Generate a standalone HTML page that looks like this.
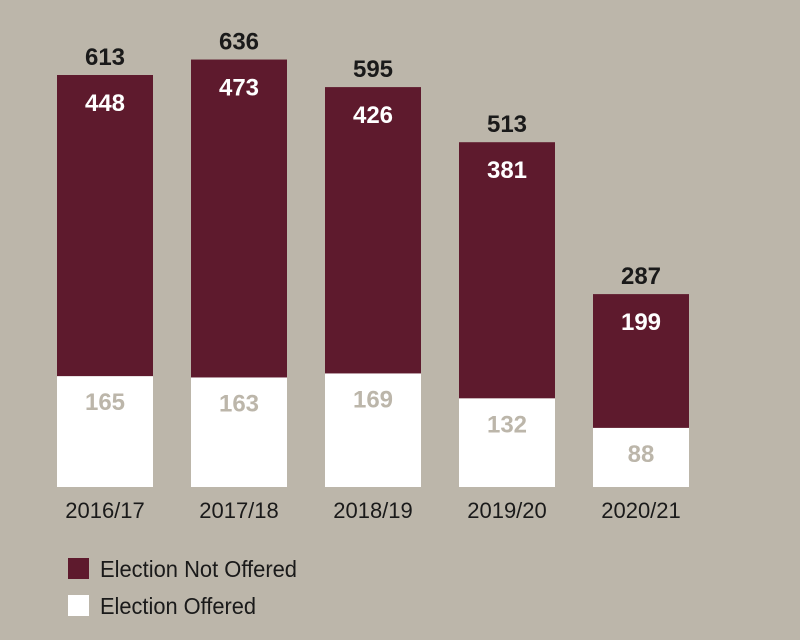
<!DOCTYPE html>
<html><head><meta charset="utf-8"><style>
html,body{margin:0;padding:0;background:#bcb6aa;}
svg{display:block;font-family:"Liberation Sans Narrow","Liberation Sans",sans-serif;}
</style></head><body>
<svg id="chart" width="800" height="640">
<rect width="800" height="640" fill="#bcb6aa"/>
<g id="bars"></g>
<g>
<rect x="68" y="558" width="21" height="21" fill="#5e1a2d"/>
<text x="100" y="577" font-size="23" fill="#1a1a1a" textLength="197" lengthAdjust="spacingAndGlyphs">Election Not Offered</text>
<rect x="68" y="595" width="21" height="21" fill="#ffffff"/>
<text x="100" y="614" font-size="23" fill="#1a1a1a" textLength="156" lengthAdjust="spacingAndGlyphs">Election Offered</text>
</g>
</svg>
<script>
const categories = ["2016/17","2017/18","2018/19","2019/20","2020/21"];
const offered = [165,163,169,132,88];
const notOffered = [448,473,426,381,199];
const totals = [613,636,595,513,287];

const base = 487, scale = 412/613, x0 = 57, step = 134, bw = 96;
const y = v => base - v*scale;
const ns = "http://www.w3.org/2000/svg";
const g = document.getElementById('bars');
function mk(tag, attrs){const e=document.createElementNS(ns,tag);for(const k in attrs)e.setAttribute(k,attrs[k]);g.appendChild(e);return e;}
categories.forEach((c,i)=>{
  const x = x0 + i*step, cx = x + bw/2;
  const o = offered[i], n = notOffered[i], t = o + n;
  const r1 = mk('rect',{x:x,y:y(o),width:bw,height:base-y(o),fill:'#ffffff'});
  
  
  const r2 = mk('rect',{x:x,y:y(t),width:bw,height:y(o)-y(t),fill:'#5e1a2d'});
  
  
  const t1 = mk('text',{x:cx,y:y(o)+34,'text-anchor':'middle','font-size':'24','font-weight':'bold',fill:'#bcb6aa'});
  t1.textContent = o;
  
  
  const t2 = mk('text',{x:cx,y:y(t)+36,'text-anchor':'middle','font-size':'24','font-weight':'bold',fill:'#ffffff'});
  t2.textContent = n;
  
  
  const t3 = mk('text',{x:cx,y:y(t)-10,'text-anchor':'middle','font-size':'24','font-weight':'bold',fill:'#1a1a1a'});
  t3.textContent = totals[i];
  
  
  const t4 = mk('text',{x:cx,y:518,'text-anchor':'middle','font-size':'22',fill:'#1a1a1a'});
  t4.textContent = c;
  
  
});
</script>
</body></html>
